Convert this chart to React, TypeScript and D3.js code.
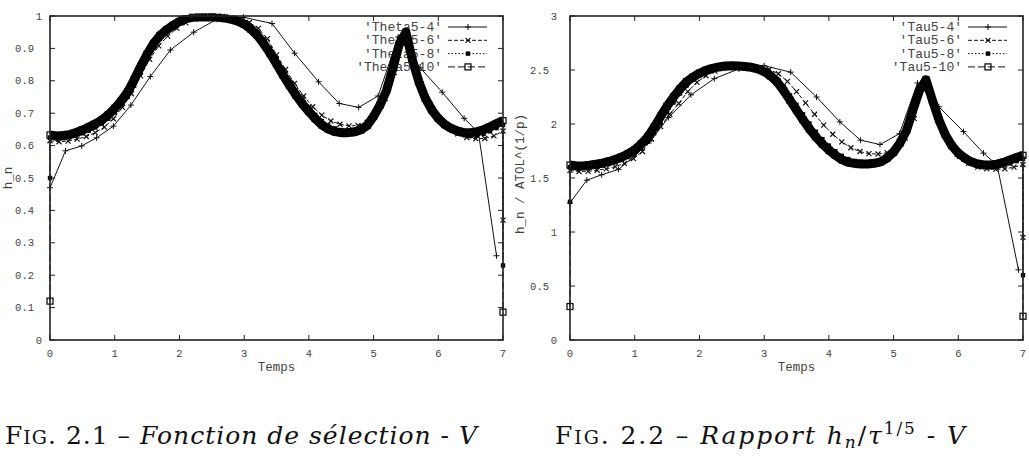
import React, { useRef, useEffect } from 'react';
import * as d3 from 'd3';

// Theta5 runs : step size h_n against time
const thetaT4 = [0, 0.24, 0.49, 0.72, 0.98, 1.25, 1.55, 1.86, 2.22, 2.58, 2.99, 3.43, 3.78, 4.15, 4.47, 4.77, 5.07, 5.38, 5.72, 6.06, 6.40, 6.62, 6.90];
const thetaH4 = [0.47, 0.584, 0.599, 0.624, 0.66, 0.725, 0.813, 0.895, 0.95, 0.99, 0.996, 0.977, 0.885, 0.797, 0.73, 0.718, 0.753, 0.935, 0.84, 0.765, 0.684, 0.64, 0.26];
// sampled every 0.14
const thetaH6 = [0.615, 0.612, 0.614, 0.620, 0.628, 0.640, 0.657, 0.683, 0.718, 0.760,
  0.815, 0.866, 0.908, 0.938, 0.962, 0.979, 0.991, 0.998, 1.000, 0.999,
  0.995, 0.989, 0.980, 0.962, 0.930, 0.880, 0.835, 0.792, 0.753, 0.720,
  0.694, 0.676, 0.666, 0.661, 0.662, 0.672, 0.697, 0.745, 0.825, 0.925,
  0.875, 0.790, 0.725, 0.682, 0.655, 0.636, 0.625, 0.621, 0.622, 0.630, 0.645];
// sampled every 0.1
const thetaH8 = [0.625, 0.622, 0.623, 0.626, 0.631, 0.638, 0.646, 0.656, 0.668, 0.683,
  0.702, 0.724, 0.750, 0.785, 0.825, 0.866, 0.902, 0.930, 0.951, 0.966,
  0.979, 0.989, 0.996, 0.999, 1.000, 1.000, 0.999, 0.996, 0.992, 0.987,
  0.980, 0.968, 0.951, 0.928, 0.900, 0.868, 0.834, 0.801, 0.770, 0.742,
  0.717, 0.695, 0.676, 0.662, 0.653, 0.648, 0.647, 0.649, 0.654, 0.666,
  0.690, 0.722, 0.763, 0.828, 0.905, 0.945, 0.872, 0.803, 0.750, 0.712,
  0.684, 0.663, 0.648, 0.638, 0.632, 0.630, 0.631, 0.636, 0.644, 0.654, 0.664];
const thetaH10 = [0.633, 0.630, 0.631, 0.634, 0.640, 0.648, 0.657, 0.667, 0.679, 0.695,
  0.715, 0.738, 0.766, 0.803, 0.844, 0.882, 0.915, 0.940, 0.957, 0.971,
  0.983, 0.992, 0.996, 0.997, 0.997, 0.997, 0.996, 0.994, 0.990, 0.984,
  0.975, 0.960, 0.941, 0.915, 0.885, 0.852, 0.818, 0.786, 0.756, 0.729,
  0.705, 0.683, 0.664, 0.651, 0.643, 0.640, 0.640, 0.642, 0.648, 0.662,
  0.690, 0.725, 0.770, 0.840, 0.915, 0.950, 0.864, 0.797, 0.746, 0.710,
  0.684, 0.665, 0.653, 0.645, 0.640, 0.640, 0.643, 0.649, 0.658, 0.668, 0.677];
// [first step, last step] of the dense runs
const thetaEnds6 = [null, 0.37];
const thetaEnds8 = [0.50, 0.23];
const thetaEnds10 = [0.12, 0.086];

// Tau5 runs : h_n / ATOL^(1/p)
const tauT4 = [0, 0.26, 0.49, 0.75, 0.99, 1.25, 1.52, 1.87, 2.23, 2.61, 3.0, 3.41, 3.81, 4.17, 4.49, 4.79, 5.09, 5.37, 5.70, 6.08, 6.39, 6.60, 6.93];
const tauH4 = [1.27, 1.48, 1.53, 1.58, 1.70, 1.845, 2.06, 2.27, 2.42, 2.51, 2.54, 2.48, 2.25, 2.02, 1.85, 1.81, 1.91, 2.38, 2.16, 1.93, 1.73, 1.62, 0.65];
const tauH6 = [1.57, 1.56, 1.562, 1.572, 1.585, 1.605, 1.635, 1.68, 1.745, 1.86,
  1.975, 2.09, 2.19, 2.30, 2.385, 2.447, 2.49, 2.515, 2.53, 2.535,
  2.533, 2.525, 2.505, 2.465, 2.395, 2.30, 2.195, 2.09, 1.99, 1.905,
  1.835, 1.78, 1.745, 1.725, 1.722, 1.735, 1.78, 1.87, 2.05, 2.36,
  2.22, 1.98, 1.81, 1.70, 1.635, 1.60, 1.585, 1.58, 1.585, 1.60, 1.625];
const tauH8 = [1.60, 1.592, 1.593, 1.598, 1.606, 1.616, 1.629, 1.646, 1.667, 1.694,
  1.727, 1.775, 1.835, 1.915, 2.01, 2.11, 2.20, 2.283, 2.355, 2.41,
  2.45, 2.482, 2.505, 2.52, 2.532, 2.537, 2.537, 2.534, 2.528, 2.517,
  2.497, 2.465, 2.418, 2.348, 2.265, 2.178, 2.09, 2.005, 1.928, 1.86,
  1.80, 1.748, 1.705, 1.675, 1.658, 1.65, 1.648, 1.652, 1.664, 1.693,
  1.742, 1.82, 1.925, 2.095, 2.28, 2.40, 2.24, 2.06, 1.915, 1.81,
  1.735, 1.685, 1.648, 1.622, 1.608, 1.602, 1.605, 1.617, 1.635, 1.656, 1.678];
const tauH10 = [1.62, 1.612, 1.612, 1.618, 1.627, 1.638, 1.653, 1.672, 1.695, 1.725,
  1.76, 1.815, 1.88, 1.97, 2.07, 2.165, 2.25, 2.325, 2.39, 2.435,
  2.47, 2.497, 2.515, 2.528, 2.537, 2.54, 2.537, 2.532, 2.525, 2.51,
  2.485, 2.445, 2.39, 2.31, 2.22, 2.13, 2.04, 1.955, 1.88, 1.815,
  1.76, 1.71, 1.67, 1.645, 1.635, 1.63, 1.63, 1.636, 1.65, 1.685,
  1.74, 1.825, 1.94, 2.13, 2.31, 2.41, 2.22, 2.04, 1.90, 1.80,
  1.73, 1.685, 1.65, 1.63, 1.62, 1.62, 1.628, 1.645, 1.668, 1.69, 1.71];
const tauEnds6 = [null, 0.95];
const tauEnds8 = [1.28, 0.60];
const tauEnds10 = [0.31, 0.22];

const xTicks = [0, 1, 2, 3, 4, 5, 6, 7];
const thetaTicks = [0, 0.1, 0.2, 0.3, 0.4, 0.5, 0.6, 0.7, 0.8, 0.9, 1];
const tauTicks = [0, 0.5, 1, 1.5, 2, 2.5, 3];

const MONO = '"Liberation Mono", "DejaVu Sans Mono", monospace';
const SERIF = '"DejaVu Serif", serif';

type Pt = [number, number];
type Run = { name: string; all: Pt[]; grid: Pt[]; dash: string; marker: string; band?: boolean };

function coarse(name: string, t: number[], h: number[]): Run {
  const pts = t.map((v, i) => [v, h[i]] as Pt);
  return { name, all: pts, grid: pts, dash: 'none', marker: 'plus' };
}

function dense(name: string, h: number[], step: number, ends: (number | null)[], dash: string, marker: string, band = false): Run {
  const grid = h.map((v, i) => [i * step, v] as Pt);
  const all = [...(ends[0] != null ? [[0, ends[0]] as Pt] : []), ...grid, ...(ends[1] != null ? [[7, ends[1]] as Pt] : [])];
  return { name, all, grid, dash, marker, band };
}

function drawMarker(g: any, kind: string, cx: number, cy: number) {
  if (kind === 'plus') {
    g.append('path').attr('d', `M${cx - 3},${cy}H${cx + 3}M${cx},${cy - 3}V${cy + 3}`).attr('stroke', '#111').attr('stroke-width', 1);
  } else if (kind === 'cross') {
    g.append('path').attr('d', `M${cx - 2.5},${cy - 2.5}L${cx + 2.5},${cy + 2.5}M${cx - 2.5},${cy + 2.5}L${cx + 2.5},${cy - 2.5}`).attr('stroke', '#111').attr('stroke-width', 1.2);
  } else if (kind === 'fill') {
    g.append('rect').attr('x', cx - 2.2).attr('y', cy - 2.2).attr('width', 4.4).attr('height', 4.4).attr('fill', '#000');
  } else {
    g.append('rect').attr('x', cx - 3).attr('y', cy - 3).attr('width', 6).attr('height', 6).attr('fill', 'none').attr('stroke', '#000').attr('stroke-width', 1.2);
  }
}

function Plot({ frame, yMax, yTicks, runs, ylabel, ylabelX, ylabelY, gap, id }: any) {
  const ref = useRef<SVGGElement>(null);

  useEffect(() => {
    const g = d3.select(ref.current);
    g.selectAll('*').remove();

    const x = d3.scaleLinear().domain([0, 7]).range([frame.left, frame.right]);
    const y = d3.scaleLinear().domain([0, yMax]).range([frame.bottom, frame.top]);
    const line = d3.line<Pt>().x(d => x(d[0])).y(d => y(d[1]));

    g.append('clipPath').attr('id', id)
      .append('rect').attr('x', frame.left - 10).attr('y', frame.top)
      .attr('width', frame.right - frame.left + 20).attr('height', frame.bottom - frame.top);

    // ticks, mirrored on all four sides
    const ticks = g.append('g').attr('stroke', '#222').attr('stroke-width', 1);
    xTicks.forEach(v => {
      ticks.append('line').attr('x1', x(v)).attr('x2', x(v)).attr('y1', frame.bottom).attr('y2', frame.bottom - 5);
      ticks.append('line').attr('x1', x(v)).attr('x2', x(v)).attr('y1', frame.top).attr('y2', frame.top + 5);
    });
    yTicks.forEach((v: number) => {
      ticks.append('line').attr('x1', frame.left).attr('x2', frame.left + 5).attr('y1', y(v)).attr('y2', y(v));
      ticks.append('line').attr('x1', frame.right).attr('x2', frame.right - 5).attr('y1', y(v)).attr('y2', y(v));
    });

    const labels = g.append('g').attr('font-family', MONO).attr('font-size', 10.5).attr('fill', '#444');
    xTicks.forEach(v => {
      labels.append('text').attr('x', x(v)).attr('y', frame.bottom + 17).attr('text-anchor', 'middle').text(String(v));
    });
    yTicks.forEach((v: number) => {
      const s = String(v);
      labels.append('text')
        .attr('x', frame.left - gap - (s.includes('.') ? 8 : 0))
        .attr('y', y(v) + 3.5).attr('text-anchor', 'end').text(s);
    });

    g.append('text').attr('x', (frame.left + frame.right) / 2).attr('y', frame.bottom + 31)
      .attr('text-anchor', 'middle').attr('font-family', MONO).attr('font-size', 12.5).attr('fill', '#444').text('Temps');
    g.append('text').attr('transform', `translate(${ylabelX},${ylabelY}) rotate(-90)`)
      .attr('text-anchor', 'middle').attr('font-family', MONO).attr('font-size', 12.5).attr('fill', '#444').text(ylabel);

    // key, top right
    const key = g.append('g');
    runs.forEach((r: Run, i: number) => {
      const ky = frame.top + 11 + i * 13.3;
      key.append('text').attr('x', frame.right - 61).attr('y', ky + 4).attr('text-anchor', 'end')
        .attr('font-family', MONO).attr('font-size', 13).attr('fill', '#444').text(`'${r.name}'`);
      key.append('line').attr('x1', frame.right - 55).attr('x2', frame.right - 16).attr('y1', ky).attr('y2', ky)
        .attr('stroke', '#111').attr('stroke-width', 1).attr('stroke-dasharray', r.dash);
      drawMarker(key, r.marker, frame.right - 35, ky);
    });

    // curves, in plotting order
    runs.forEach((r: Run) => {
      const cg = g.append('g');
      if (r.band) {
        cg.append('path').attr('d', line(r.grid)).attr('fill', 'none').attr('stroke', '#000')
          .attr('stroke-width', 9).attr('stroke-linejoin', 'round').attr('clip-path', `url(#${id})`);
      }
      cg.append('path').attr('d', line(r.all)).attr('fill', 'none').attr('stroke', '#111')
        .attr('stroke-width', 1).attr('stroke-dasharray', r.dash);
      r.all.forEach(d => drawMarker(cg, r.marker, x(d[0]), y(d[1])));
    });

    g.append('rect').attr('x', frame.left).attr('y', frame.top)
      .attr('width', frame.right - frame.left).attr('height', frame.bottom - frame.top)
      .attr('fill', 'none').attr('stroke', '#222').attr('stroke-width', 1.6);
  }, []);

  return <g ref={ref} />;
}

const thetaRuns = [
  coarse('Theta5-4', thetaT4, thetaH4),
  dense('Theta5-6', thetaH6, 0.14, thetaEnds6, '4,2', 'cross'),
  dense('Theta5-8', thetaH8, 0.1, thetaEnds8, '1.5,2', 'fill'),
  dense('Theta5-10', thetaH10, 0.1, thetaEnds10, '7,3', 'box', true),
];
const tauRuns = [
  coarse('Tau5-4', tauT4, tauH4),
  dense('Tau5-6', tauH6, 0.14, tauEnds6, '4,2', 'cross'),
  dense('Tau5-8', tauH8, 0.1, tauEnds8, '1.5,2', 'fill'),
  dense('Tau5-10', tauH10, 0.1, tauEnds10, '7,3', 'box', true),
];

export default function App() {
  return (
    <div style={{ position: 'absolute', left: 0, top: 0 }}>
      <svg width={1029} height={459} style={{ display: 'block', background: '#fff' }}>
        <Plot id="clipTheta" frame={{ left: 50, right: 503, top: 16, bottom: 340 }} yMax={1} yTicks={thetaTicks}
          runs={thetaRuns} ylabel="h_n" ylabelX={12} ylabelY={178} gap={8} />
        <Plot id="clipTau" frame={{ left: 570, right: 1023, top: 16, bottom: 340 }} yMax={3} yTicks={tauTicks}
          runs={tauRuns} ylabel="h_n / ATOL^(1/p)" ylabelX={524} ylabelY={174} gap={13} />
        <text x={5} y={444} fontFamily={SERIF} fontSize={25} fill="#111" textLength={472} lengthAdjust="spacing">
          <tspan>F</tspan><tspan fontSize={19}>IG</tspan><tspan>. 2.1 – </tspan>
          <tspan fontStyle="italic">Fonction de sélection</tspan><tspan> - </tspan><tspan fontStyle="italic">V</tspan>
        </text>
        <text x={555} y={444} fontFamily={SERIF} fontSize={25} fill="#111" textLength={410} lengthAdjust="spacing">
          <tspan>F</tspan><tspan fontSize={19}>IG</tspan><tspan>. 2.2 – </tspan>
          <tspan fontStyle="italic">Rapport h</tspan>
          <tspan fontStyle="italic" fontSize={17} dy={4}>n</tspan>
          <tspan dy={-4}>/</tspan><tspan fontStyle="italic">τ</tspan>
          <tspan fontSize={17} dy={-10}>1/5</tspan>
          <tspan dy={10}> - </tspan><tspan fontStyle="italic">V</tspan>
        </text>
      </svg>
    </div>
  );
}
